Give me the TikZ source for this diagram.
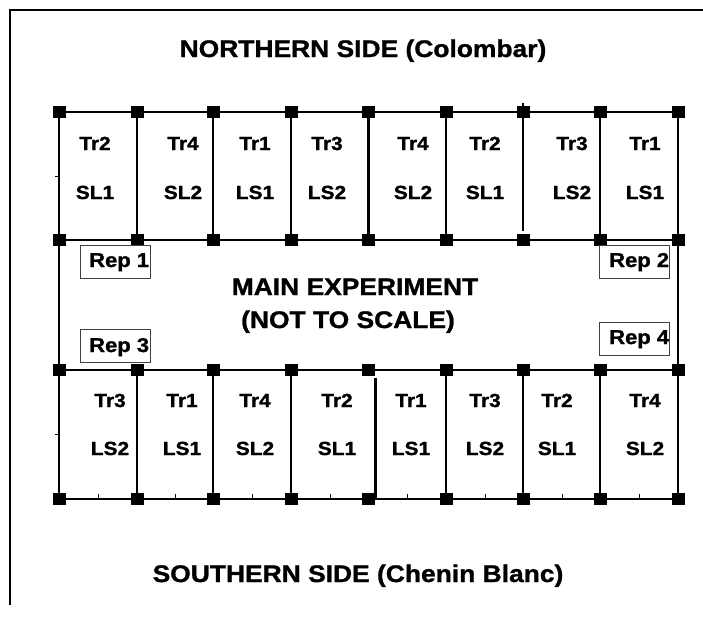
\documentclass[tikz,border=0pt]{standalone}
\usepackage{fontspec}
\setmainfont[FakeStretch=1.1, BoldFeatures={FakeBold=1.2}]{Liberation Sans}
\begin{document}
\begin{tikzpicture}[x=1pt,y=-1pt,
  post/.style={fill=black, minimum width=13pt, minimum height=12pt, inner sep=0pt, draw=none},
  gridline/.style={line width=1.3pt, line cap=rect},
  divider/.style={line width=3pt},
  tickline/.style={line width=0.8pt},
  lab/.style={font=\fontsize{19}{19}\selectfont\bfseries, anchor=base, inner sep=0pt},
  ttl/.style={font=\fontsize{24}{24}\selectfont\bfseries, anchor=base, inner sep=0pt},
  repbox/.style={draw=black!75, line width=1pt, minimum width=70pt, minimum height=33pt, inner sep=0pt, anchor=north west},
  reptext/.style={font=\fontsize{20}{20}\selectfont\bfseries, anchor=base west, inner sep=0pt}]
\useasboundingbox (0,0) rectangle (703,619);

% outer frame
\coordinate (fTL) at (10,10);
\coordinate (fTR) at (703,10);
\coordinate (fBL) at (10,605);
\draw[line width=1.5pt] (fBL) -- (fTL) -- (fTR);

% post positions
\foreach \i/\x in {0/59,1/137,2/213,3/291,4/368,5/446,6/523,7/600,8/678} {
  \coordinate (T\i) at (\x,112);
  \coordinate (U\i) at (\x,240);
  \coordinate (B\i) at (\x,370);
  \coordinate (C\i) at (\x,499);
}

% horizontal wires
\draw[gridline] (T0) -- (T8);
\draw[gridline] (U0) -- (U8);
\draw[gridline] (B0) -- (B8);
\draw[gridline] (C0) -- (C8);
% outer verticals
\draw[gridline] (T0) -- (C0);
\draw[gridline] (T8) -- (C8);
% top row internal verticals
\foreach \i in {1,2,3,5,7} { \draw[gridline] (T\i) -- (U\i); }
\coordinate (t6a) at (523,104);
\coordinate (t6b) at (523,230);
\draw[gridline] (t6a) -- (t6b);
\draw[divider] (T4) -- (U4);
% bottom row internal verticals
\foreach \i in {1,2,3,5,6,7} { \draw[gridline] (B\i) -- (C\i); }
\coordinate (d4a) at (375,378);
\coordinate (d4b) at (375,499);
\draw[divider] (d4a) -- (d4b);

% small ticks
\foreach \x in {98,175,252,330,407,485,562,639} {
  \coordinate (tk\x a) at (\x,499);
  \coordinate (tk\x b) at (\x,494);
  \draw[tickline] (tk\x a) -- (tk\x b);
}
\coordinate (lt1a) at (55,176); \coordinate (lt1b) at (59,176);
\coordinate (lt2a) at (55,434); \coordinate (lt2b) at (59,434);
\draw[tickline] (lt1a) -- (lt1b);
\draw[tickline] (lt2a) -- (lt2b);

% posts
\foreach \r in {T,U,B,C} {
  \foreach \i in {0,...,8} { \node[post] (p\r\i) at (\r\i) {}; }
}

% titles
\node[ttl] (north) at (363,57) {NORTHERN SIDE (Colombar)};
\node[ttl] (south) at (358,582) {SOUTHERN SIDE (Chenin Blanc)};
\node[ttl] (main1) at (355,295) {MAIN EXPERIMENT};
\node[ttl] (main2) at (348,328) {(NOT TO SCALE)};

% top row labels
\foreach \n/\x/\a/\b in {1/95/Tr2/SL1, 2/183/Tr4/SL2, 3/255/Tr1/LS1, 4/327/Tr3/LS2,
                         5/413/Tr4/SL2, 6/485/Tr2/SL1, 7/572/Tr3/LS2, 8/645/Tr1/LS1} {
  \node[lab] (ntr\n) at (\x,150) {\a};
  \node[lab] (nsl\n) at (\x,199) {\b};
}
% bottom row labels
\foreach \n/\x/\a/\b in {1/110/Tr3/LS2, 2/182/Tr1/LS1, 3/255/Tr4/SL2, 4/337/Tr2/SL1,
                         5/411/Tr1/LS1, 6/485/Tr3/LS2, 7/557/Tr2/SL1, 8/645/Tr4/SL2} {
  \node[lab] (str\n) at (\x,407) {\a};
  \node[lab] (ssl\n) at (\x,455) {\b};
}

% rep boxes
\node[repbox] (rep1box) at (80,245) {};
\node[repbox] (rep3box) at (80,329) {};
\node[repbox] (rep2box) at (599,245) {};
\node[repbox] (rep4box) at (599,322) {};
\node[reptext] (rep1) at (89,267) {Rep 1};
\node[reptext] (rep3) at (89,352) {Rep 3};
\node[reptext] (rep2) at (609,267) {Rep 2};
\node[reptext] (rep4) at (609,344) {Rep 4};
\end{tikzpicture}
\end{document}
